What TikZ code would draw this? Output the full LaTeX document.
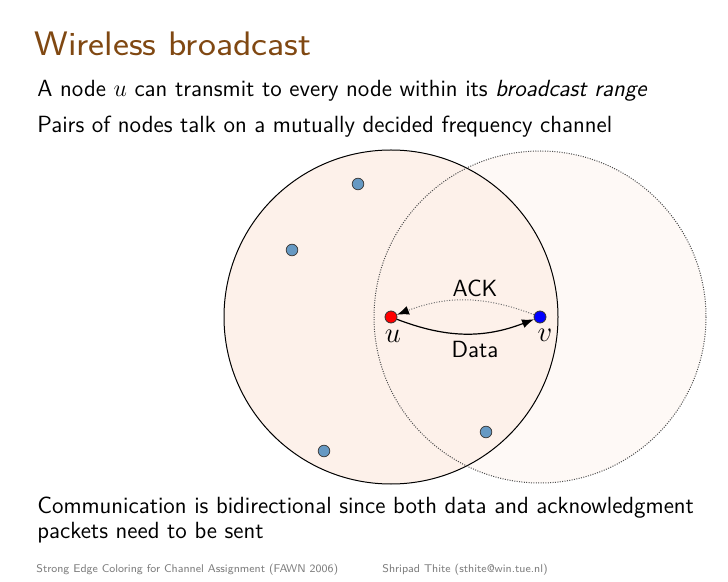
\documentclass[tikz,border=0pt]{standalone}
\usetikzlibrary{arrows.meta}
\definecolor{titlebrown}{RGB}{128,72,18}
\definecolor{leftfill}{RGB}{253,241,234}
\definecolor{rightfill}{RGB}{254,249,246}
\definecolor{dotblue}{RGB}{102,153,195}
\definecolor{footgray}{RGB}{125,125,125}
\tikzset{
  bodytext/.style={anchor=base west, inner sep=0pt, font=\sffamily\fontsize{11.7}{13}\selectfont},
  titletext/.style={anchor=base west, inner sep=0pt, text=titlebrown, font=\sffamily\fontsize{17}{20}\selectfont},
  foottext/.style={anchor=base west, inner sep=0pt, text=footgray, font=\sffamily\fontsize{5.6}{7}\selectfont},
  other/.style={circle, draw=black!75, line width=0.4pt, fill=dotblue, minimum size=5.8pt, inner sep=0pt},
  endpt/.style={circle, draw=black!80, line width=0.4pt, minimum size=6pt, inner sep=0pt},
  edgelabel/.style={inner sep=0pt, font=\sffamily\fontsize{11.7}{13}\selectfont},
  mathlabel/.style={inner sep=0pt, font=\fontsize{15}{17}\selectfont},
  tip/.style={-{Latex[length=6pt,width=4.5pt,black]}}
}
\begin{document}
\begin{tikzpicture}[x=0.5pt,y=-0.5pt]
\useasboundingbox[fill=white] (0,0) rectangle (728,582);
% title and text
\node[titletext] (title) at (34,56) {\scalebox{1.12}[1]{Wireless broadcast}};
\node[bodytext] (l1) at (37,97) {A node $u$ can transmit to every node within its \textit{broadcast range}};
\node[bodytext] (l2) at (37,133) {Pairs of nodes talk on a mutually decided frequency channel};
\node[bodytext] (l3) at (37,513) {Communication is bidirectional since both data and acknowledgment};
\node[bodytext] (l4) at (37,538) {packets need to be sent};
\node[foottext] (f1) at (36,572) {Strong Edge Coloring for Channel Assignment (FAWN 2006)};
\node[foottext] (f2) at (382,572) {Shripad Thite (sthite@win.tue.nl)};
% ranges
\coordinate (cu) at (391,317);
\coordinate (cv) at (540,317);
\fill[rightfill] (cv) circle[radius=166];
\filldraw[fill=leftfill, draw=black, line width=0.5pt] (cu) circle[radius=167];
\draw[black!70, line width=0.5pt, dash pattern=on 0.5pt off 0.7pt] (cv) circle[radius=166];
% other nodes
\node[other] (n1) at (358,184) {};
\node[other] (n2) at (292,250) {};
\node[other] (n3) at (324,451) {};
\node[other] (n4) at (486,432) {};
% endpoints
\node[endpt, fill=red] (u) at (cu) {};
\node[endpt, fill=blue] (v) at (cv) {};
\node[mathlabel] (ul) at (393,336) {$u$};
\node[mathlabel] (vl) at (545,335) {$v$};
% connectors
\draw[tip, line width=0.6pt, black] (u) to[bend right=21] (v);
\draw[tip, line width=0.5pt, black!55, dash pattern=on 0.5pt off 0.8pt] (v) to[bend right=21] (u);
\node[edgelabel] (ack) at (475,288) {ACK};
\node[edgelabel] (data) at (475,349) {Data};
\end{tikzpicture}
\end{document}
